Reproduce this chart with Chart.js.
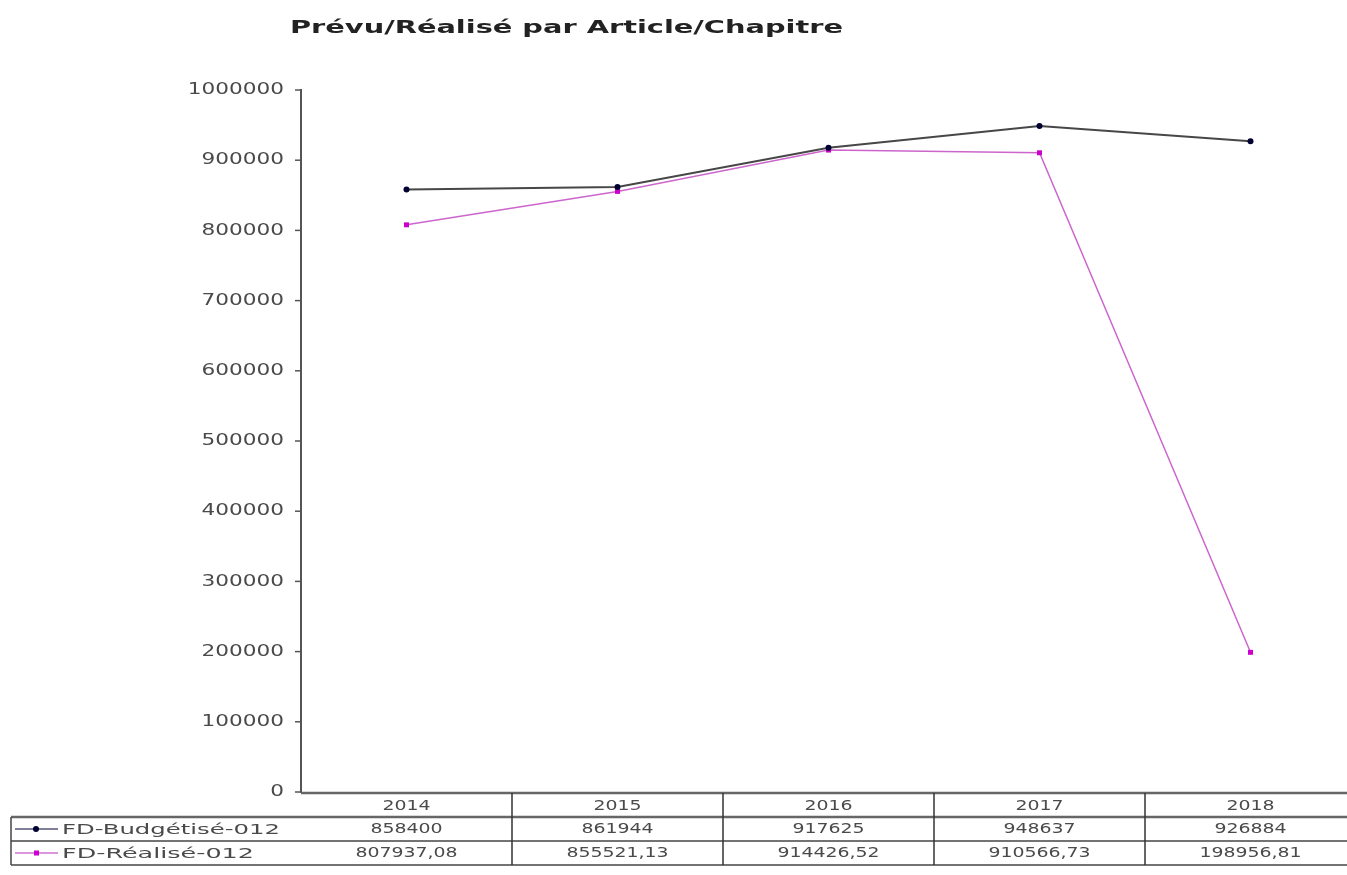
<!DOCTYPE html>
<html>
<head>
<meta charset="utf-8">
<script src="https://cdn.jsdelivr.net/npm/chart.js@4/dist/chart.umd.min.js"></script>
<style>
  html, body { margin: 0; padding: 0; background: #fff; overflow: hidden; }
  #wrap { width: 1347px; height: 875px; overflow: hidden; }
</style>
</head>
<body>
<div id="wrap"><canvas id="c" width="1360" height="875"></canvas></div>
<script>
// données
const years = ["2014", "2015", "2016", "2017", "2018"];
const budgetise = [858400, 861944, 917625, 948637, 926884];
const realise = [807937.08, 855521.13, 914426.52, 910566.73, 198956.81];
const budgetiseLabels = ["858400", "861944", "917625", "948637", "926884"];
const realiseLabels = ["807937,08", "855521,13", "914426,52", "910566,73", "198956,81"];
const yTicks = [0, 100000, 200000, 300000, 400000, 500000, 600000, 700000, 800000, 900000, 1000000];
const seriesNames = ["FD-Budgétisé-012", "FD-Réalisé-012"];
const title = "Prévu/Réalisé par Article/Chapitre";

const SX = 1.35; // l'image d'origine est étirée en largeur
const FONT = "DejaVu Sans, Verdana, sans-serif";
const AXIS = "#555";
const TXT = "#4a4a4a";

function txt(ctx, s, x, y, align, font, color, sx) {
  ctx.save();
  ctx.translate(x, y);
  ctx.scale(sx || SX, 1);
  ctx.font = font;
  ctx.fillStyle = color;
  ctx.textAlign = align;
  ctx.textBaseline = "middle";
  ctx.fillText(s, 0, 0);
  ctx.restore();
}

// étire un texte pour qu'il occupe une largeur donnée
function fitTxt(ctx, s, x, y, font, color, width) {
  ctx.save();
  ctx.font = font;
  const w = ctx.measureText(s).width;
  ctx.restore();
  txt(ctx, s, x, y, "left", font, color, width / w);
}

function line(ctx, x1, y1, x2, y2, w, color) {
  ctx.save();
  ctx.beginPath();
  ctx.moveTo(x1, y1);
  ctx.lineTo(x2, y2);
  ctx.lineWidth = w;
  ctx.strokeStyle = color;
  ctx.stroke();
  ctx.restore();
}

// axes + tableau de données
const decor = {
  id: "decor",
  afterDraw(chart) {
    const ctx = chart.ctx;
    const xs = chart.scales.x;
    const ys = chart.scales.y;
    const area = chart.chartArea;

    // titre
    fitTxt(ctx, title, 290, 28, "bold 18px " + FONT, "#222", 553);

    // axe Y
    line(ctx, area.left, ys.getPixelForValue(1000000) - 1, area.left, area.bottom + 1, 2, AXIS);
    yTicks.forEach(v => {
      const y = ys.getPixelForValue(v);
      line(ctx, area.left - 6, y, area.left, y, 1.5, AXIS);
      txt(ctx, String(v), area.left - 17, y, "right", "16px " + FONT, TXT);
    });

    // tableau
    const rowH = 24;
    const top = area.bottom + 1;
    const rows = [top, top + rowH, top + rowH * 2, top + rowH * 3];
    line(ctx, area.left, rows[0], 1360, rows[0], 2.5, "#666");
    line(ctx, 11, rows[1], 1360, rows[1], 2.5, "#666");
    line(ctx, 11, rows[2], 1360, rows[2], 1.5, "#444");
    line(ctx, 11, rows[3], 1360, rows[3], 1.5, "#444");
    line(ctx, 11, rows[1], 11, rows[3], 1.5, "#444");

    const half = (xs.getPixelForValue(1) - xs.getPixelForValue(0)) / 2;
    for (let i = 0; i < years.length; i++) {
      const cx = xs.getPixelForValue(i);
      line(ctx, cx + half, rows[0], cx + half, rows[3], 1.5, "#333");
      txt(ctx, years[i], cx, rows[0] + rowH / 2 + 1, "center", "14px " + FONT, TXT);
      txt(ctx, budgetiseLabels[i], cx, rows[1] + rowH / 2, "center", "14px " + FONT, TXT);
      txt(ctx, realiseLabels[i], cx, rows[2] + rowH / 2, "center", "14px " + FONT, TXT);
    }

    // légende dans le tableau
    const legend = [
      { name: seriesNames[0], line: "#555577", mark: "#000033", rect: false, w: 218 },
      { name: seriesNames[1], line: "#d070d0", mark: "#cc00cc", rect: true, w: 192 }
    ];
    legend.forEach((l, k) => {
      const y = rows[k + 1] + rowH / 2;
      line(ctx, 15, y, 58, y, 1.5, l.line);
      ctx.save();
      ctx.fillStyle = l.mark;
      ctx.beginPath();
      if (l.rect) ctx.rect(34, y - 2.5, 5, 5);
      else ctx.arc(36, y, 3, 0, Math.PI * 2);
      ctx.fill();
      ctx.restore();
      fitTxt(ctx, l.name, 62, y + 1, "14px " + FONT, TXT, l.w);
    });
  }
};

new Chart(document.getElementById("c"), {
  type: "line",
  data: {
    labels: years,
    datasets: [
      {
        label: seriesNames[0],
        data: budgetise,
        borderColor: "#474747",
        borderWidth: 2,
        pointBackgroundColor: "#000033",
        pointBorderColor: "#000033",
        pointRadius: 3,
        pointBorderWidth: 0,
        tension: 0
      },
      {
        label: seriesNames[1],
        data: realise,
        borderColor: "#cc66cc",
        borderWidth: 1.5,
        pointStyle: "rect",
        pointBackgroundColor: "#cc00cc",
        pointBorderColor: "#cc00cc",
        pointRadius: 3.5,
        pointBorderWidth: 0,
        tension: 0
      }
    ]
  },
  options: {
    responsive: false,
    animation: false,
    layout: { padding: { left: 301, right: 3, top: 90, bottom: 83 } },
    plugins: { legend: { display: false }, title: { display: false }, tooltip: { enabled: false } },
    scales: {
      x: { display: false, offset: true },
      y: { display: false, min: 0, max: 1000000 }
    }
  },
  plugins: [decor]
});
</script>
</body>
</html>
